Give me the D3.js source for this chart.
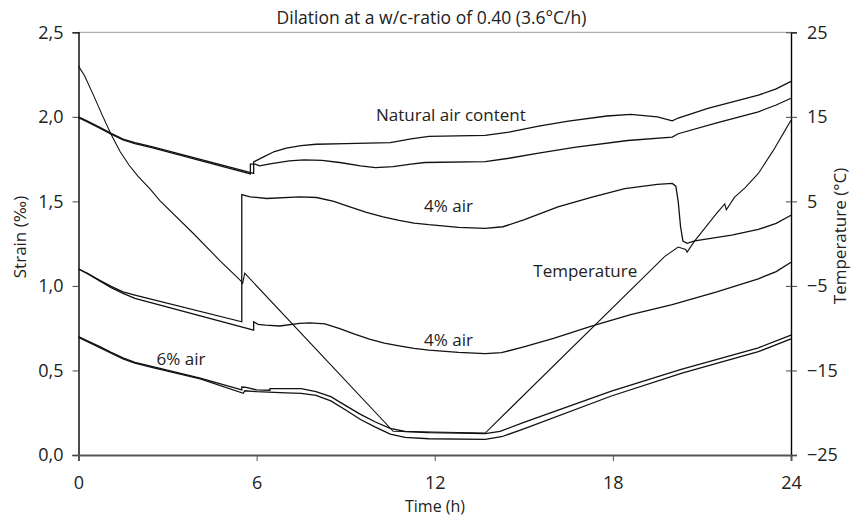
<!DOCTYPE html>
<html>
<head>
<meta charset="utf-8">
<script src="https://cdn.jsdelivr.net/npm/d3@7"></script>
<style>
  body { margin: 0; background: #fff; }
  text { font-family: "Open Sans", sans-serif; fill: #222; }
</style>
</head>
<body>
<div id="chart"></div>
<script>
// Strain series, [time (h), strain (‰)]
const naturalUpper = [[0,2.00],[0.3,1.975],[0.7,1.94],[1.1,1.902],[1.5,1.868],[1.9,1.847],[2.5,1.822],[5.9,1.666],[5.9,1.733],[6.2,1.76],[6.6,1.795],[7.0,1.815],[7.5,1.83],[8.0,1.838],[9,1.842],[10.5,1.848],[11.2,1.87],[11.8,1.885],[13.7,1.89],[14.5,1.91],[15.5,1.945],[16.5,1.975],[17.8,2.005],[18.6,2.015],[19.5,2.0],[20.0,1.976],[20.2,1.993],[21.2,2.05],[22.9,2.128],[23.5,2.165],[24,2.21]];
const naturalLower = [[0,1.995],[0.3,1.97],[0.7,1.935],[1.1,1.897],[1.5,1.863],[1.9,1.842],[2.5,1.817],[5.79,1.663],[5.79,1.72],[5.95,1.72],[6.1,1.71],[6.45,1.722],[7.1,1.74],[7.6,1.745],[8.2,1.742],[8.8,1.73],[9.5,1.71],[10.0,1.70],[10.6,1.705],[11.2,1.72],[11.66,1.73],[13.7,1.735],[14.5,1.755],[15.5,1.785],[16.7,1.82],[18.5,1.86],[20.0,1.88],[20.2,1.90],[21.5,1.965],[22.9,2.03],[23.5,2.07],[24,2.11]];
const air4Upper = [[0,1.10],[0.3,1.075],[0.7,1.035],[1.1,0.997],[1.5,0.965],[1.9,0.946],[5.5,0.788],[5.5,1.54],[5.78,1.527],[6.34,1.517],[7.45,1.527],[8.02,1.523],[8.6,1.50],[9.14,1.467],[9.7,1.435],[10.26,1.408],[10.8,1.387],[11.3,1.372],[11.8,1.362],[12.8,1.346],[13.7,1.34],[14.3,1.35],[15,1.39],[16.15,1.467],[17.3,1.525],[18.4,1.576],[19.5,1.60],[20.0,1.606],[20.12,1.59],[20.2,1.50],[20.28,1.35],[20.36,1.265],[20.5,1.252],[20.76,1.267],[22.0,1.30],[22.9,1.334],[23.5,1.37],[24,1.418]];
const air4Lower = [[0,1.10],[0.3,1.073],[0.7,1.031],[1.1,0.99],[1.5,0.956],[1.9,0.926],[5.9,0.739],[5.9,0.788],[6.05,0.773],[6.3,0.768],[6.78,0.763],[7.45,0.778],[7.8,0.782],[8.3,0.775],[8.8,0.748],[9.3,0.715],[9.8,0.685],[10.3,0.662],[10.8,0.645],[11.3,0.63],[11.8,0.62],[12.8,0.607],[13.7,0.60],[14.25,0.605],[15,0.64],[16,0.69],[17.28,0.762],[18.6,0.83],[20.0,0.89],[21.5,0.965],[22.9,1.042],[23.5,1.085],[24,1.14]];
const air6Upper = [[0,0.70],[0.3,0.675],[0.7,0.642],[1.1,0.607],[1.5,0.574],[1.9,0.548],[2.5,0.522],[4.1,0.455],[5.5,0.385],[5.5,0.402],[5.65,0.40],[6.0,0.385],[6.45,0.383],[6.45,0.393],[7.5,0.392],[8.0,0.375],[8.5,0.345],[9.0,0.292],[9.5,0.24],[10.0,0.195],[10.5,0.157],[11.0,0.139],[11.8,0.132],[13.7,0.126],[14.2,0.14],[15,0.193],[17.95,0.378],[20.3,0.506],[22.9,0.634],[24,0.709]];
const air6Lower = [[0,0.695],[0.3,0.67],[0.7,0.637],[1.1,0.602],[1.5,0.569],[1.9,0.543],[2.5,0.517],[4.1,0.45],[5.55,0.365],[5.6,0.38],[6.0,0.375],[7.0,0.368],[7.5,0.364],[8.0,0.353],[8.5,0.32],[9.0,0.266],[9.5,0.21],[10.0,0.165],[10.5,0.124],[11.0,0.104],[11.8,0.096],[13.7,0.093],[14.25,0.108],[15,0.155],[17.95,0.349],[20.3,0.483],[22.9,0.611],[24,0.687]];

// Temperature, [time (h), °C] on the right axis
const temperature = [[0,21],[0.2,19.9],[0.5,17.6],[0.8,15.2],[1.1,12.9],[1.4,10.9],[1.7,9.3],[2.0,8.0],[2.4,6.5],[2.74,5.1],[3.87,1.2],[4.76,-2],[5.47,-4.4],[5.53,-4.7],[5.6,-3.5],[10.6,-22.2],[13.7,-22.4],[19.75,-1.5],[20.2,-0.4],[20.45,-0.7],[20.5,-1.0],[20.75,0.3],[21.5,3.6],[21.77,4.7],[21.82,4.0],[22.1,5.5],[22.45,6.6],[22.9,8.3],[23.4,11],[23.8,13.4],[24,14.6]];

const timeTicks = [0, 6, 12, 18, 24];
const strainTicks = [0, 0.5, 1.0, 1.5, 2.0, 2.5];
const tempTicks = [-25, -15, -5, 5, 15, 25];

const labels = [
  {text: "Natural air content", t: 10.02, v: 1.975},
  {text: "4% air", t: 11.64, v: 1.437},
  {text: "4% air", t: 11.64, v: 0.645},
  {text: "6% air", t: 2.63, v: 0.532},
  {text: "Temperature", t: 15.32, v: 1.054}
];

const W = 855, H = 516;
const svg = d3.select("#chart").append("svg").attr("width", W).attr("height", H);

const x = d3.scaleLinear().domain([0, 24]).range([78.5, 791]);
const y = d3.scaleLinear().domain([0, 2.5]).range([455, 32.3]);
const yT = d3.scaleLinear().domain([-25, 25]).range([455, 32.3]);

// top frame line
svg.append("line")
  .attr("x1", x(0)).attr("x2", x(24)).attr("y1", y(2.5)).attr("y2", y(2.5))
  .attr("stroke", "#999").attr("stroke-width", 1);

const comma = d => d3.format(".1f")(d).replace(".", ",");

// left axis
const gL = svg.append("g").attr("transform", `translate(${x(0)},0)`)
  .call(d3.axisLeft(y).tickValues(strainTicks).tickFormat(comma).tickSize(6).tickPadding(9));
gL.select(".domain").attr("stroke", "#000").attr("stroke-width", 1.4);
gL.selectAll(".tick line").attr("stroke", "#444");
gL.selectAll(".tick text").attr("font-size", 18).attr("font-family", "Open Sans").attr("fill", "#222");

// right axis
const gR = svg.append("g").attr("transform", `translate(${x(24)},0)`)
  .call(d3.axisRight(yT).tickValues(tempTicks).tickSize(6).tickPadding(10));
gR.select(".domain").attr("stroke", "#000").attr("stroke-width", 1.4);
gR.selectAll(".tick line").attr("x1", -5).attr("stroke", "#444");
gR.selectAll(".tick text").attr("font-size", 18).attr("font-family", "Open Sans").attr("fill", "#222");

// bottom axis
const gB = svg.append("g").attr("transform", `translate(0,${y(0)})`)
  .call(d3.axisBottom(x).tickValues(timeTicks).tickSize(6).tickPadding(15));
gB.select(".domain").attr("stroke", "#555").attr("stroke-width", 2);
gB.selectAll(".tick line").attr("stroke", "#555");
gB.selectAll(".tick text").attr("font-size", 18).attr("font-family", "Open Sans").attr("fill", "#222");

// title and axis titles
svg.append("text").attr("x", 431.5).attr("y", 24).attr("text-anchor", "middle")
  .attr("font-size", 17.5).text("Dilation at a w/c-ratio of 0.40 (3.6°C/h)");
svg.append("text").attr("x", 435).attr("y", 512).attr("text-anchor", "middle")
  .attr("font-size", 16).text("Time (h)");
const sLab = svg.append("text").attr("transform", "translate(26,237) rotate(-90)").attr("text-anchor", "middle")
  .attr("font-size", 17);
sLab.append("tspan").text("Strain (");
sLab.append("tspan").attr("font-family", "DejaVu Sans").attr("font-size", 16).text("‰");
sLab.append("tspan").text(")");
svg.append("text").attr("transform", "translate(846,236) rotate(-90)").attr("text-anchor", "middle")
  .attr("font-size", 17).text("Temperature (°C)");

// lines
const strainLine = d3.line().x(d => x(d[0])).y(d => y(d[1]));
const tempLine = d3.line().x(d => x(d[0])).y(d => yT(d[1]));

const series = [naturalUpper, naturalLower, air4Upper, air4Lower, air6Upper, air6Lower];
svg.append("g").selectAll("path").data(series).join("path")
  .attr("d", strainLine)
  .attr("fill", "none").attr("stroke", "#111").attr("stroke-width", 1.3);

svg.append("path").datum(temperature)
  .attr("d", tempLine)
  .attr("fill", "none").attr("stroke", "#111").attr("stroke-width", 1.1);

// curve labels
svg.append("g").selectAll("text").data(labels).join("text")
  .attr("x", d => x(d.t)).attr("y", d => y(d.v))
  .attr("font-size", 17).text(d => d.text);
</script>
</body>
</html>
